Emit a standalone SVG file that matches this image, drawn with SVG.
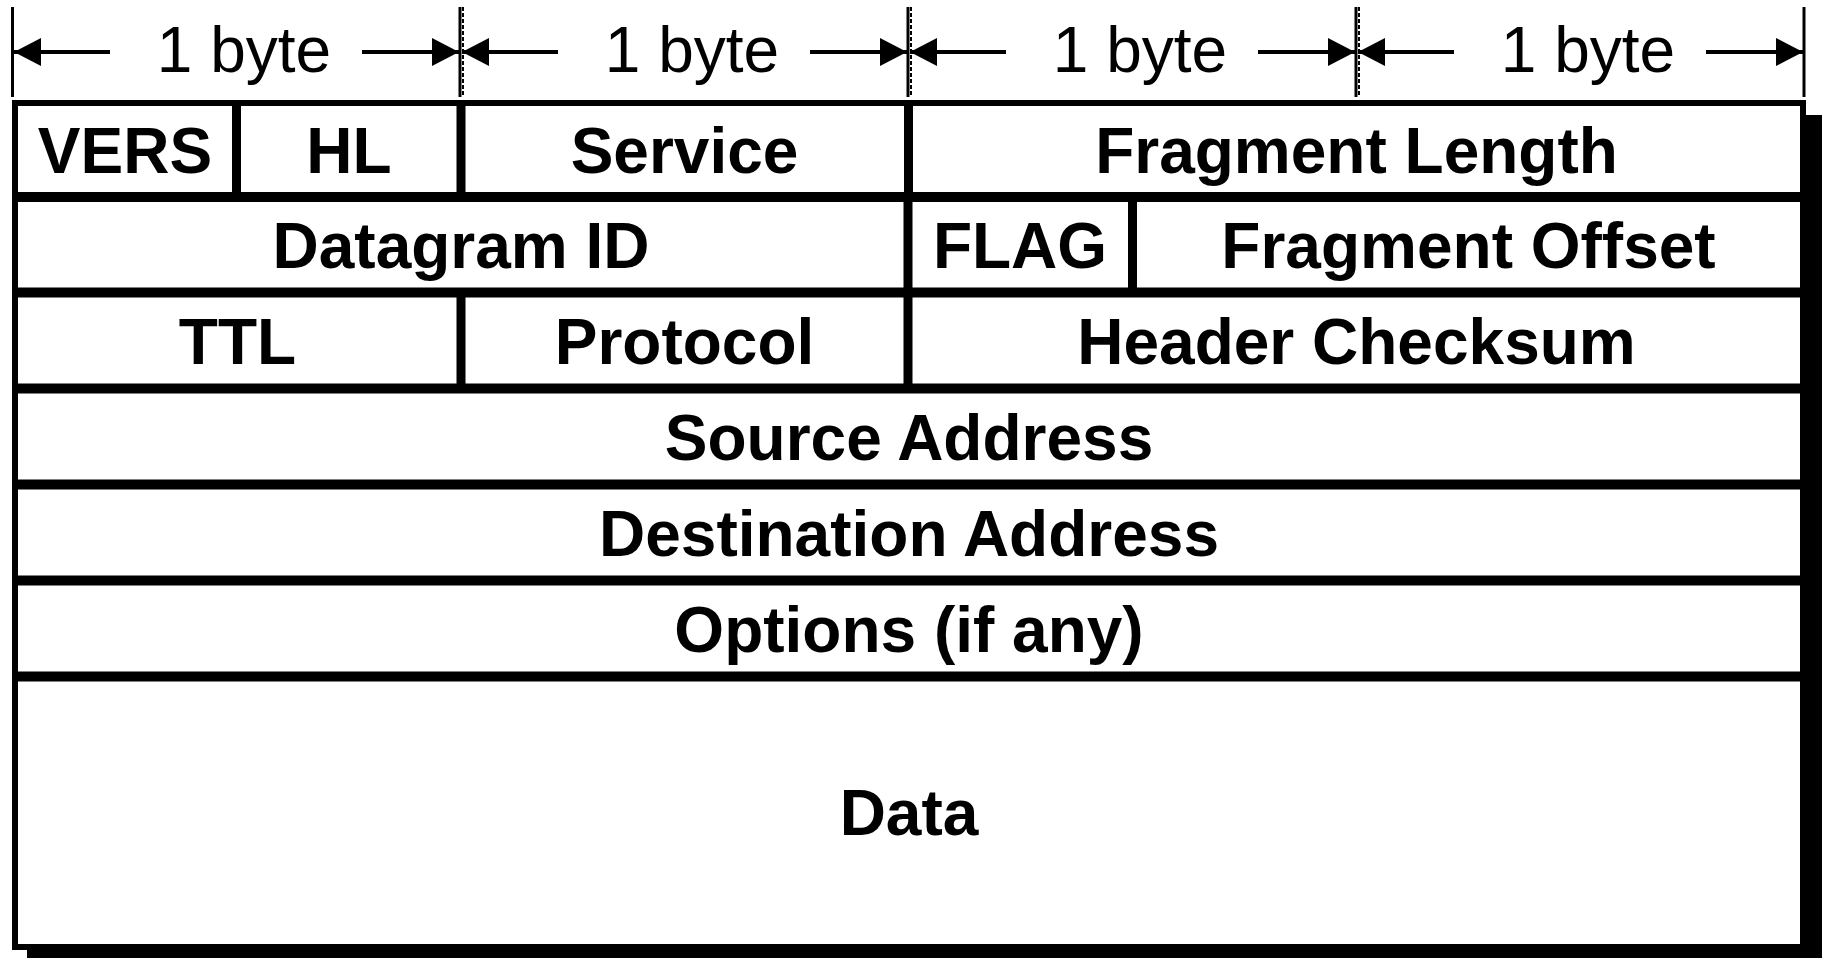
<svg xmlns="http://www.w3.org/2000/svg" width="1822" height="958" viewBox="0 0 1822 958">
<style>
.lbl{font-family:"Liberation Sans",Arial,sans-serif;font-weight:bold;font-size:64px;fill:#000;text-anchor:middle}
.byte{font-family:"Liberation Sans",Arial,sans-serif;font-size:64px;fill:#000;text-anchor:middle}
.arr{stroke:#000;stroke-width:4;fill:none;marker-end:url(#ah)}
.tick{stroke:#000;stroke-width:3}
.tickd{stroke:#000;stroke-width:2;stroke-dasharray:4 2}
.hsep{stroke:#000;stroke-width:10}
.vsep{stroke:#000;stroke-width:9}
</style>
<defs>
<marker id="ah" markerUnits="userSpaceOnUse" markerWidth="27" markerHeight="28" refX="27" refY="14" orient="auto" viewBox="0 0 27 28">
<path d="M0,0 L27,14 L0,28 Z" fill="#000"/>
</marker>
</defs>
<rect width="1822" height="958" fill="#fff"/>
<g id="scale">
<line class="tick" x1="12.5" y1="7" x2="12.5" y2="97"/>
<line class="tick" x1="460" y1="7" x2="460" y2="97"/><line class="tickd" x1="463" y1="7" x2="463" y2="97"/>
<line class="tick" x1="908" y1="7" x2="908" y2="97"/><line class="tickd" x1="911" y1="7" x2="911" y2="97"/>
<line class="tick" x1="1356" y1="7" x2="1356" y2="97"/><line class="tickd" x1="1359" y1="7" x2="1359" y2="97"/>
<line class="tick" x1="1804" y1="7" x2="1804" y2="97"/>
</g>
<g id="connectors">
<line class="arr" x1="110" y1="52" x2="14" y2="52"/><line class="arr" x1="362" y1="52" x2="459" y2="52"/>
<line class="arr" x1="558" y1="52" x2="462" y2="52"/><line class="arr" x1="810" y1="52" x2="907" y2="52"/>
<line class="arr" x1="1006" y1="52" x2="910" y2="52"/><line class="arr" x1="1258" y1="52" x2="1355" y2="52"/>
<line class="arr" x1="1454" y1="52" x2="1358" y2="52"/><line class="arr" x1="1706" y1="52" x2="1803" y2="52"/>
</g>
<g id="byte-labels">
<text class="byte" x="244" y="72">1 byte</text>
<text class="byte" x="692" y="72">1 byte</text>
<text class="byte" x="1140" y="72">1 byte</text>
<text class="byte" x="1588" y="72">1 byte</text>
</g>
<g id="table">
<rect x="27" y="115" width="1810" height="860" fill="#000"/>
<rect x="15" y="103" width="1788" height="844" fill="#fff" stroke="#000" stroke-width="6"/>
<line class="hsep" x1="15" y1="197" x2="1803" y2="197"/>
<line class="hsep" x1="15" y1="292.5" x2="1803" y2="292.5"/>
<line class="hsep" x1="15" y1="388.5" x2="1803" y2="388.5"/>
<line class="hsep" x1="15" y1="484.5" x2="1803" y2="484.5"/>
<line class="hsep" x1="15" y1="580.5" x2="1803" y2="580.5"/>
<line class="hsep" x1="15" y1="676.5" x2="1803" y2="676.5"/>
<line class="vsep" x1="236.5" y1="103" x2="236.5" y2="197"/>
<line class="vsep" x1="461" y1="103" x2="461" y2="197"/>
<line class="vsep" x1="908.5" y1="103" x2="908.5" y2="197"/>
<line class="vsep" x1="908" y1="197" x2="908" y2="292"/>
<line class="vsep" x1="1132.5" y1="197" x2="1132.5" y2="292"/>
<line class="vsep" x1="461" y1="292" x2="461" y2="388"/>
<line class="vsep" x1="908" y1="292" x2="908" y2="388"/>
</g>
<g id="vers"><text class="lbl" x="125" y="173">VERS</text></g>
<g id="hl"><text class="lbl" x="349" y="173">HL</text></g>
<g id="service"><text class="lbl" x="684.5" y="173">Service</text></g>
<g id="fragment-length"><text class="lbl" x="1356.5" y="173">Fragment Length</text></g>
<g id="datagram-id"><text class="lbl" x="461" y="268">Datagram ID</text></g>
<g id="flag"><text class="lbl" x="1020" y="268">FLAG</text></g>
<g id="fragment-offset"><text class="lbl" x="1468.5" y="268">Fragment Offset</text></g>
<g id="ttl"><text class="lbl" x="237.5" y="364">TTL</text></g>
<g id="protocol"><text class="lbl" x="684.5" y="364">Protocol</text></g>
<g id="header-checksum"><text class="lbl" x="1356.5" y="364">Header Checksum</text></g>
<g id="source-address"><text class="lbl" x="909" y="460">Source Address</text></g>
<g id="destination-address"><text class="lbl" x="909" y="556">Destination Address</text></g>
<g id="options"><text class="lbl" x="909" y="652">Options (if any)</text></g>
<g id="data"><text class="lbl" x="909" y="835">Data</text></g>
</svg>
